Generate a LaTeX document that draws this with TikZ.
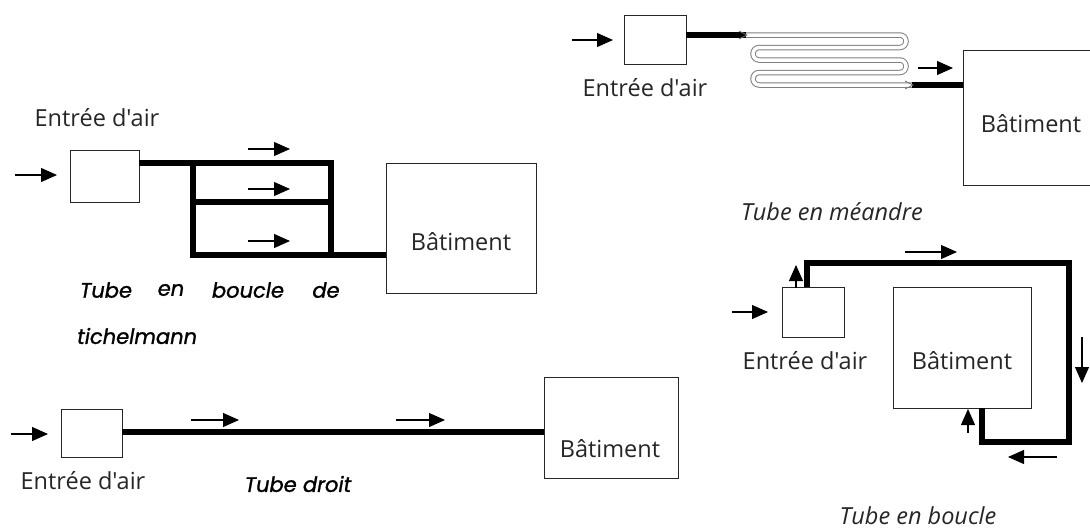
\documentclass[tikz,border=0pt]{standalone}
\usepackage{fontspec}
\newfontfamily\lblfont{Open Sans}
\newfontfamily\comicfont{Poppins}[ItalicFeatures={FakeBold=1.2}]
\usetikzlibrary{arrows.meta}
\tikzset{
  box/.style={draw=black!85, line width=0.9pt, inner sep=0pt, fill=white},
  lbl/.style={font=\lblfont\fontsize{23.5}{26}\selectfont, text=black!85, inner sep=0pt},
  captxt/.style={font=\lblfont\fontsize{23.5}{26}\selectfont\itshape, text=black!85, inner sep=0pt},
  comic/.style={font=\comicfont\fontsize{21}{24}\selectfont\itshape, text=black, inner sep=0pt},
  pipe/.style={line width=6pt, black},
  flow/.style={line width=1.1pt, -{Triangle[length=16pt,width=14pt]}},
  meander/.style={draw=black!50, line width=1pt, double=white, double distance=3.5pt, rounded corners=6.2pt}
}
\begin{document}
\begin{tikzpicture}[x=1pt,y=-1pt]
\useasboundingbox (0,0) rectangle (1090,531);
\fill[white] (0,0) rectangle (1090,531);

% ---------- Panel A : Tichelmann ----------
\node[lbl] (entA) at (97,118) {Entrée d'air};
\node[box, minimum width=69pt, minimum height=52pt] (boxA) at (104.5,176) {};
\node[box, minimum width=150pt, minimum height=130pt] (batA) at (461,228) {};
\node[lbl] (batAt) at (461,242) {Bâtiment};
\coordinate (a1) at (193,163);
\coordinate (a2) at (331,163);
\coordinate (a3) at (193,202);
\coordinate (a4) at (331,202);
\coordinate (a5) at (193,255);
\coordinate (a6) at (331,255);
\draw[pipe] (boxA.east |- a1) -- (a2) -- (a6);
\draw[pipe] (a1) -- (a5) -- (batA.west |- a5);
\draw[pipe] (a3) -- (a4);
\draw[flow] (15,175) -- (57,175);
\draw[flow] (248,149) -- (290,149);
\draw[flow] (248,189) -- (290,189);
\draw[flow] (248,241) -- (290,241);
\node[comic] (wA1) at (106,290) {Tube};
\node[comic] (wA2) at (171,290) {en};
\node[comic] (wA3) at (248,290) {boucle};
\node[comic] (wA4) at (326,290) {de};
\node[comic, anchor=west] (wA5) at (77,336) {tichelmann};

% ---------- Panel B : Meandre ----------
\node[box, minimum width=62pt, minimum height=49pt] (boxB) at (655,39.5) {};
\node[lbl] (entB) at (645,88) {Entrée d'air};
\node[box, minimum width=140pt, minimum height=135pt, anchor=north west] (batB) at (963,50) {};
\node[lbl] (batBt) at (1031,124) {Bâtiment};
\coordinate (m0) at (746,35);
\coordinate (m5) at (912,85);
\draw[meander] (743,35) -- (906,35) -- (906,47.5) -- (753,47.5) -- (753,60)
  -- (906,60) -- (906,72.5) -- (753,72.5) -- (753,85) -- (914,85);
\draw[pipe] (boxB.east |- m0) -- (m0);
\draw[pipe] (m5) -- (batB.west |- m5);
\draw[black!55, line width=0.8pt] (739,31) -- (747,35) -- (739,39);
\draw[black!55, line width=0.8pt] (905,81) -- (913,85) -- (905,89);
\draw[flow] (572,40) -- (613,40);
\draw[flow] (918,68) -- (953,68);
\node[captxt] (capB) at (832,212) {Tube en méandre};

% ---------- Panel C : Boucle ----------
\node[box, minimum width=62pt, minimum height=50pt] (boxC) at (813,312) {};
\node[lbl] (entC) at (805,361) {Entrée d'air};
\node[box, minimum width=138pt, minimum height=121pt] (batC) at (962,347.5) {};
\node[lbl] (batCt) at (962,361) {Bâtiment};
\coordinate (c1) at (807,263);
\coordinate (c2) at (1069,263);
\coordinate (c3) at (1069,442);
\coordinate (c4) at (982,442);
\draw[pipe] (boxC.north -| c1) -- (c1) -- (c2) -- (c3) -- (c4) -- (batC.south -| c4);
\draw[flow] (732,312) -- (768,312);
\draw[flow] (796,288) -- (796,265);
\draw[flow] (905,252) -- (957,252);
\draw[flow] (1082,337) -- (1082,383);
\draw[flow] (1057,457) -- (1008,457);
\draw[flow] (968,433) -- (968,409);
\node[captxt] (capC) at (918,516) {Tube en boucle};

% ---------- Panel D : Droit ----------
\node[box, minimum width=61pt, minimum height=48pt] (boxD) at (91.5,433) {};
\node[lbl] (entD) at (83,481) {Entrée d'air};
\node[box, minimum width=134pt, minimum height=101pt] (batD) at (611,427.5) {};
\node[lbl] (batDt) at (610,449) {Bâtiment};
\coordinate (d0) at (122,432);
\draw[pipe] (boxD.east |- d0) -- (batD.west |- d0);
\draw[flow] (11,434) -- (48,434);
\draw[flow] (191,420) -- (239,420);
\draw[flow] (396,420) -- (445,420);
\node[comic] (capD) at (298,484) {Tube droit};
\end{tikzpicture}
\end{document}
